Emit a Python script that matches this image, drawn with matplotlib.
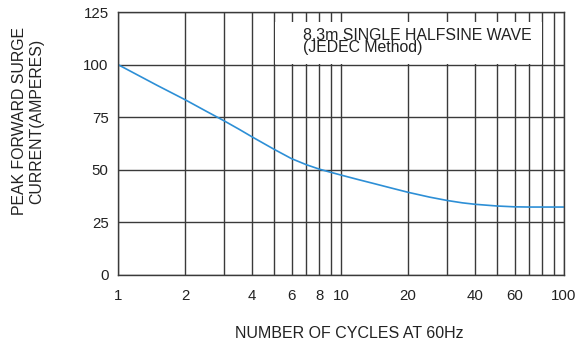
import matplotlib
matplotlib.use("Agg")
import matplotlib.pyplot as plt
from matplotlib.patches import Rectangle
from matplotlib.ticker import FixedLocator, NullFormatter

plt.rcParams['font.family'] = ['Liberation Sans', 'DejaVu Sans']

# Data
cycles = [1, 1.5, 2, 2.5, 3, 3.5, 4, 5, 6, 7, 8, 9, 10, 12, 14, 17, 20,
          25, 30, 35, 40, 50, 60, 70, 80, 100]
current = [100, 90.1, 83.3, 77.7, 73.2, 69.2, 65.6, 59.8, 55.3, 52.4, 50.3,
           48.8, 47.5, 45.3, 43.5, 41.2, 39.3, 37.0, 35.4, 34.3, 33.6, 32.8,
           32.4, 32.3, 32.3, 32.3]

major_ticks = [1, 2, 4, 6, 8, 10, 20, 40, 60, 100]
major_labels = ["1", "2", "4", "6", "8", "10", "20", "40", "60", "100"]
minor_ticks = [3, 5, 7, 9, 30, 50, 70, 80, 90]
y_ticks = [0, 25, 50, 75, 100, 125]

note_text = "8.3m SINGLE HALFSINE WAVE\n(JEDEC Method)"
x_label = "NUMBER OF CYCLES AT 60Hz"
y_label = "PEAK FORWARD SURGE\nCURRENT(AMPERES)"

grid_color = "#3a3a3a"
curve_color = "#2d8fd6"
text_color = "#222222"

fig = plt.figure(figsize=(5.81, 3.45), dpi=100)
ax = fig.add_axes([118 / 581, 1 - 275 / 345, (564 - 118) / 581, (275 - 12) / 345])

ax.set_xscale('log')
ax.set_xlim(1, 100)
ax.set_ylim(0, 125)

ax.xaxis.set_major_locator(FixedLocator(major_ticks))
ax.set_xticklabels(major_labels)
ax.xaxis.set_minor_locator(FixedLocator(minor_ticks))
ax.xaxis.set_minor_formatter(NullFormatter())
ax.set_yticks(y_ticks)

ax.grid(True, which='both', axis='x', color=grid_color, linewidth=1.0)
ax.grid(True, which='major', axis='y', color=grid_color, linewidth=1.0)

ax.tick_params(axis='both', which='both', length=0, labelsize=10.8, colors=text_color)
ax.tick_params(axis='x', pad=10.2)
ax.tick_params(axis='y', pad=6.8)

for s in ax.spines.values():
    s.set_color(grid_color)
    s.set_linewidth(1.0)

# White note box covering the grid
ax.add_patch(Rectangle((5.04, 100.3), 79.4 - 5.04, 120.2 - 100.3,
                       facecolor='white', edgecolor='none', zorder=1.6))
ax.text(6.75, 117.6, note_text, fontsize=11.4, color=text_color,
        va='top', ha='left', linespacing=0.8, zorder=3)

ax.plot(cycles, current, color=curve_color, linewidth=1.2, zorder=2)

fig.text(349 / 581, 1 - 334 / 345, x_label, fontsize=11.5, color=text_color,
         ha='center', va='center')
fig.text(28 / 581, 1 - 121 / 345, y_label, fontsize=11.4, color=text_color,
         ha='center', va='center', rotation=90, multialignment='center',
         linespacing=1.15)

fig.savefig("out.png", dpi=100)
